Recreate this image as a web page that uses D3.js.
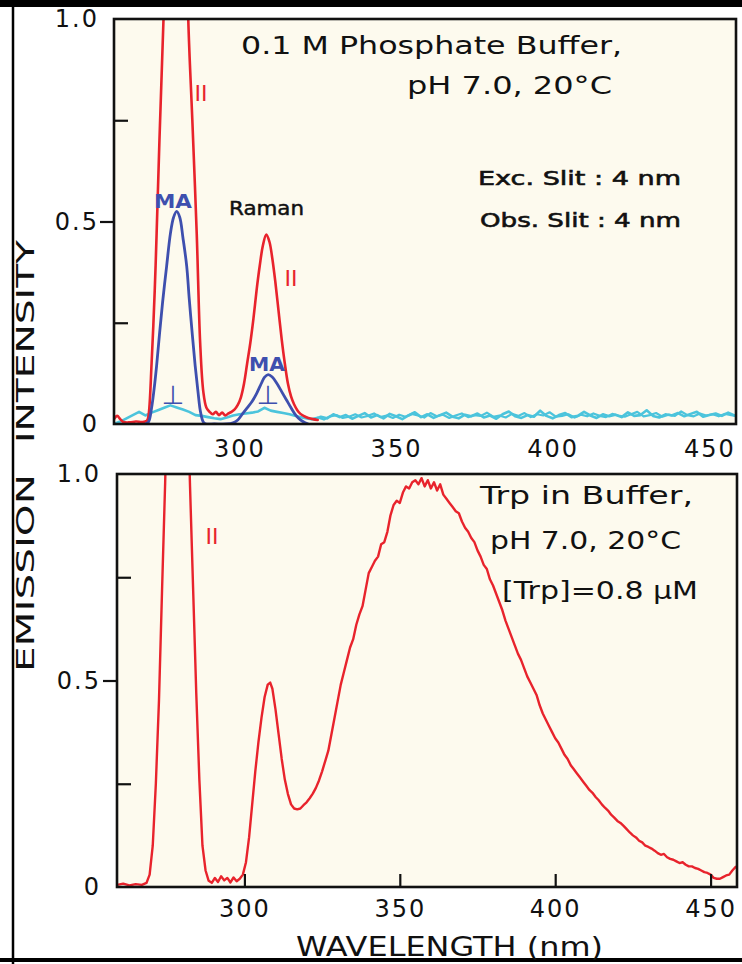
<!DOCTYPE html>
<html>
<head>
<meta charset="utf-8">
<script src="https://cdn.jsdelivr.net/npm/d3@7"></script>
<style>
  html, body { margin: 0; padding: 0; background: #ffffff; }
  svg { display: block; }
  text { font-family: "DejaVu Sans", sans-serif; }
</style>
</head>
<body>
<svg id="chart" width="742" height="964"></svg>
<script>
// ---------------- DATA ----------------
const xTickValues = [300, 350, 400, 450];
const yLabelValues = [0, 0.5, 1];
const yMinorTicks = [0.25, 0.75];

// Top panel: 0.1 M phosphate buffer, parallel (II) polarization [wavelength nm, intensity]
const bufferParallel = [
  [260,0.012],[261,0.02],[262,0.012],[263,0.005],[265,0.004],[267,0.006],[269,0.005],[270.5,0.008],
  [271,0.02],[272,0.15],[273,0.33],[273.6,0.47],[274.5,0.7],[275.8,1.0],[277,1.45],[278.5,1.9],
  [280,2.05],[281.5,1.9],[282.7,1.45],[283.7,1.0],[285,0.75],[286.4,0.47],[287.5,0.2],[288.5,0.08],
  [289.5,0.04],[290.5,0.03],[291.5,0.024],[292.5,0.03],[293.5,0.022],[294.5,0.028],[295.5,0.021],
  [296.5,0.026],[297.5,0.03],[298.5,0.036],[299.5,0.047],[300.5,0.066],[301.5,0.1],[302.5,0.15],
  [303.5,0.2],[304.5,0.26],[305.5,0.33],[306.5,0.39],[307.5,0.44],[308.6,0.468],[309.6,0.45],
  [310.5,0.41],[311.5,0.35],[312.5,0.28],[313.5,0.21],[314.5,0.15],[315.5,0.1],[316.5,0.068],
  [317.5,0.048],[318.5,0.034],[319.5,0.025],[320.5,0.02],[322,0.015],[323.5,0.012],[325,0.01]
];

// Top panel: magic-angle (MA) polarization
const bufferMagic = [
  [270,0],[271,0.005],[272,0.04],[273,0.1],[273.6,0.144],[274.5,0.22],[275.5,0.3],[276.8,0.39],
  [278,0.47],[279,0.51],[280,0.525],[281,0.51],[282,0.46],[283.2,0.39],[284,0.31],[285,0.22],
  [285.9,0.144],[286.8,0.08],[287.6,0.03],[288.5,0.005],[289.5,0],[292,0],[296,0],[298,0.003],
  [299.5,0.01],[301,0.025],[302.5,0.04],[304,0.055],[305.5,0.075],[307,0.1],[308,0.115],
  [309.2,0.122],[310.5,0.116],[312,0.1],[313.5,0.08],[315,0.06],[316.5,0.04],[318,0.022],
  [319.5,0.01],[321,0.003],[322,0]
];

// Top panel: perpendicular polarization baseline (scan 1)
const bufferPerp = [
  [260,0.000],[262,0.006],[264,0.014],[266,0.022],[268,0.030],[270,0.021],[272,0.028],[274,0.034],
  [276,0.040],[278,0.046],[280,0.041],[282,0.036],[284,0.030],[286,0.022],[288,0.020],[290,0.017],
  [292,0.014],[294,0.012],[296,0.016],[298,0.021],[300,0.024],[302,0.026],[304,0.028],[306,0.031],
  [308,0.040],[310,0.033],[312,0.030],[314,0.027],[316,0.024],[318,0.020],[320,0.016],[322,0.013],
  [324,0.011],[326,0.018],[328,0.014],[330,0.024],[332,0.017],[334,0.022],[336,0.013],[338,0.020],
  [340,0.027],[342,0.016],[344,0.022],[346,0.014],[348,0.025],[350,0.019],[352,0.012],[354,0.021],
  [356,0.029],[358,0.017],[360,0.024],[362,0.015],[364,0.022],[366,0.028],[368,0.018],[370,0.014],
  [372,0.023],[374,0.019],[376,0.026],[378,0.016],[380,0.021],[382,0.013],[384,0.024],[386,0.031],
  [388,0.019],[390,0.015],[392,0.022],[394,0.018],[396,0.033],[398,0.020],[400,0.014],[402,0.022],
  [404,0.027],[406,0.017],[408,0.020],[410,0.030],[412,0.021],[414,0.015],[416,0.024],[418,0.019],
  [420,0.023],[422,0.017],[424,0.029],[426,0.020],[428,0.022],[430,0.034],[432,0.020],[434,0.016],
  [436,0.024],[438,0.021],[440,0.027],[442,0.019],[444,0.025],[446,0.030],[448,0.018],[450,0.022],
  [452,0.026],[454,0.020],[456,0.028],[458,0.021]
];

// Top panel: perpendicular polarization baseline (scan 2, overlapping)
const bufferPerp2 = [
  [323,0.012],[325,0.016],[327,0.011],[329,0.019],[331,0.022],[333,0.015],[335,0.018],[337,0.024],
  [339,0.016],[341,0.020],[343,0.026],[345,0.017],[347,0.021],[349,0.015],[351,0.023],[353,0.018],
  [355,0.025],[357,0.021],[359,0.016],[361,0.027],[363,0.019],[365,0.023],[367,0.015],[369,0.021],
  [371,0.026],[373,0.017],[375,0.022],[377,0.020],[379,0.028],[381,0.018],[383,0.021],[385,0.016],
  [387,0.025],[389,0.020],[391,0.027],[393,0.017],[395,0.024],[397,0.021],[399,0.029],[401,0.018],
  [403,0.020],[405,0.024],[407,0.016],[409,0.023],[411,0.019],[413,0.026],[415,0.020],[417,0.017],
  [419,0.025],[421,0.021],[423,0.018],[425,0.024],[427,0.030],[429,0.019],[431,0.022],[433,0.027],
  [435,0.018],[437,0.023],[439,0.020],[441,0.031],[443,0.022],[445,0.019],[447,0.026],[449,0.021],
  [451,0.024],[453,0.019],[455,0.025],[457,0.022],[458.5,0.020]
];

// Bottom panel: Trp in buffer, parallel polarization
const trpParallel = [
  [259,0.005],[261,0.008],[263,0.004],[265,0.007],[267,0.005],[268.5,0.01],[269.5,0.03],[270.5,0.1],
  [271.5,0.25],[272.5,0.45],[273.5,0.72],[274.5,0.98],[275.5,1.3],[277,1.8],[278.5,2.0],[280,1.8],
  [281.5,1.25],[282.5,0.97],[283.5,0.72],[284.5,0.47],[285.5,0.26],[286.5,0.1],[287.5,0.04],
  [288.5,0.015],[289.5,0.01],[290.5,0.022],[291.5,0.012],[292.5,0.026],[293.5,0.016],[294.5,0.022],
  [295.5,0.011],[296.5,0.023],[297.5,0.014],[298.5,0.02],[299.5,0.03],[300.5,0.06],[301.5,0.12],
  [302.5,0.2],[303.5,0.28],[304.5,0.35],[305.5,0.41],[306.5,0.46],[307.5,0.49],[308.3,0.495],
  [309,0.48],[310,0.43],[311,0.37],[312,0.31],[313,0.26],[314,0.225],[315,0.2],[316,0.19],
  [317,0.188],[318,0.19],[319,0.198],[320,0.205],[321,0.215],[322,0.226],[323,0.24],[324,0.258],
  [325,0.28],[326,0.305],[327,0.33],[328,0.37],[329,0.41],[330,0.45],[331,0.49],[332,0.52],
  [333,0.55],[334,0.58],[335,0.6],[336,0.635],[337,0.66],[338,0.68],[339,0.72],[340,0.76],
  [341,0.775],[342,0.79],[343,0.8],[344,0.83],[345,0.835],[346,0.86],[347,0.9],[348,0.925],
  [349,0.935],[350,0.93],[351,0.955],[352,0.97],[353,0.965],[354,0.98],[355,0.985],[356,0.975],
  [357,0.99],[358,0.97],[359,0.985],[360,0.965],[361,0.98],[362,0.96],[363,0.975],[364,0.95],
  [365,0.94],[366,0.93],[367,0.92],[368,0.91],[369,0.905],[370,0.885],[371,0.87],[372,0.86],
  [373,0.845],[374,0.835],[375,0.815],[376,0.8],[377,0.78],[378,0.77],[379,0.745],[380,0.73],
  [381,0.71],[382,0.69],[383,0.67],[384,0.645],[385,0.625],[386,0.605],[387,0.585],[388,0.565],
  [389,0.55],[390,0.53],[391,0.51],[392,0.495],[393,0.48],[394,0.465],[395,0.44],[396,0.42],
  [397,0.405],[398,0.39],[399,0.375],[400,0.36],[401,0.35],[402,0.335],[403,0.32],[404,0.31],
  [405,0.295],[406,0.285],[407,0.275],[408,0.265],[409,0.255],[410,0.245],[411,0.235],[412,0.228],
  [413,0.218],[414,0.21],[415,0.2],[416,0.192],[417,0.185],[418,0.175],[419,0.168],[420,0.16],
  [421,0.155],[422,0.148],[423,0.14],[424,0.132],[425,0.125],[426,0.12],[427,0.112],[428,0.108],
  [429,0.1],[430,0.097],[431,0.093],[432,0.088],[433,0.082],[434,0.078],[435,0.08],[436,0.072],
  [437,0.068],[438,0.066],[439,0.062],[440,0.058],[441,0.06],[442,0.054],[443,0.05],[444,0.05],
  [445,0.046],[446,0.044],[447,0.04],[448,0.036],[449,0.034],[450,0.03],[451,0.022],[452,0.02],
  [453,0.02],[454,0.024],[455,0.028],[456,0.03],[457,0.04],[458,0.048],[458.5,0.05]
];

// ---------------- LAYOUT ----------------
const svg = d3.select("#chart");
const RED = "#e8232c", BLUE = "#3e4fae", CYAN = "#4cc4dc", PAPER = "#fdfaee";

const panels = [
  { id: "top", left: 114, right: 736, top: 19, bottom: 424, domain: [260, 458.5] },
  { id: "bot", left: 117, right: 737, top: 474, bottom: 887, domain: [259, 458.5] }
];
panels.forEach(p => {
  p.x = d3.scaleLinear().domain(p.domain).range([p.left, p.right]);
  p.y = d3.scaleLinear().domain([0, 1]).range([p.bottom, p.top]);
});

// outer frame
svg.append("line").attr("x1", 0).attr("x2", 742).attr("y1", 3.5).attr("y2", 3.5)
  .attr("stroke", "#000").attr("stroke-width", 7);
svg.append("line").attr("x1", 13).attr("x2", 13).attr("y1", 0).attr("y2", 964)
  .attr("stroke", "#000").attr("stroke-width", 2.5);
svg.append("line").attr("x1", 0).attr("x2", 742).attr("y1", 960).attr("y2", 960)
  .attr("stroke", "#000").attr("stroke-width", 4);

const defs = svg.append("defs");
panels.forEach(p => {
  svg.append("rect").attr("x", p.left).attr("y", p.top)
    .attr("width", p.right - p.left).attr("height", p.bottom - p.top)
    .attr("fill", PAPER);
  defs.append("clipPath").attr("id", "clip-" + p.id)
    .append("rect").attr("x", p.left).attr("y", p.top)
    .attr("width", p.right - p.left).attr("height", p.bottom - p.top);
});

function drawLine(p, data, color, width, curve) {
  const line = d3.line().x(d => p.x(d[0])).y(d => p.y(d[1])).curve(curve);
  svg.append("path").datum(data)
    .attr("clip-path", "url(#clip-" + p.id + ")")
    .attr("fill", "none").attr("stroke", color).attr("stroke-width", width)
    .attr("stroke-linejoin", "round").attr("stroke-linecap", "round")
    .attr("d", line);
}

const [P1, P2] = panels;
drawLine(P1, bufferPerp2, CYAN, 2.2, d3.curveLinear);
drawLine(P1, bufferPerp, CYAN, 2.6, d3.curveLinear);
drawLine(P1, bufferParallel, RED, 2.6, d3.curveCatmullRom.alpha(0.5));
drawLine(P1, bufferMagic, BLUE, 2.8, d3.curveCatmullRom.alpha(0.5));
drawLine(P2, trpParallel, RED, 2.4, d3.curveLinear);

// axes
const fmtY = d => d === 0 ? "0" : d3.format(".1f")(d);
function styleAxis(g) {
  g.select(".domain").remove();
  g.selectAll("line").attr("stroke", "#111").attr("stroke-width", 2.2);
  g.selectAll("text").attr("font-family", "DejaVu Sans, sans-serif")
    .attr("font-size", 24).attr("fill", "#111").attr("letter-spacing", 2);
}

panels.forEach((p, i) => {
  svg.append("g").attr("transform", `translate(${p.left},0)`)
    .call(d3.axisLeft(p.y).tickValues(yLabelValues).tickSize(0).tickPadding(i === 0 ? 15 : 16).tickFormat(fmtY))
    .call(styleAxis);
  svg.append("g").attr("transform", `translate(${p.left},0)`)
    .call(d3.axisLeft(p.y).tickValues(yMinorTicks).tickSize(-14).tickFormat(""))
    .call(styleAxis);
  svg.append("g").attr("transform", `translate(${p.left},0)`)
    .call(d3.axisLeft(p.y).tickValues([0.5]).tickSize(14).tickFormat(""))
    .call(styleAxis);
  const ax = d3.axisBottom(p.x).tickValues(xTickValues).tickSizeOuter(0)
    .tickSizeInner(i === 0 ? 0 : -13).tickPadding(i === 0 ? 16 : 13).tickFormat(d3.format("d"));
  svg.append("g").attr("transform", `translate(0,${p.bottom})`).call(ax).call(styleAxis);
  svg.append("rect").attr("x", p.left).attr("y", p.top)
    .attr("width", p.right - p.left).attr("height", p.bottom - p.top)
    .attr("fill", "none").attr("stroke", "#111").attr("stroke-width", 2.6);
});

// text annotations
function label(txt, x, y, opts = {}) {
  const t = svg.append("text").text(txt)
    .attr("x", x).attr("y", y)
    .attr("font-size", opts.size || 24)
    .attr("font-weight", opts.weight || "normal")
    .attr("fill", opts.color || "#111")
    .attr("text-anchor", opts.anchor || "start");
  if (opts.stroke) t.attr("stroke", opts.color || "#111").attr("stroke-width", opts.stroke);
  if (opts.len) t.attr("textLength", opts.len).attr("lengthAdjust", "spacingAndGlyphs");
  if (opts.rotate) t.attr("transform", `rotate(-90 ${x} ${y})`);
  return t;
}

// top panel texts
label("0.1 M  Phosphate  Buffer,", 241, 54, { size: 24, len: 381 });
label("pH 7.0, 20°C", 407, 94, { size: 24, len: 205 });
label("Exc. Slit  :  4  nm", 478, 185, { size: 20, stroke: 0.6, len: 203 });
label("Obs. Slit  :  4  nm", 480, 227, { size: 20, stroke: 0.6, len: 201 });
label("Raman", 229, 215, { size: 20, stroke: 0.5, len: 75 });
label("II", 201, 101, { size: 22, color: RED, anchor: "middle" });
label("MA", 154, 208, { size: 19, weight: "bold", color: BLUE, len: 38 });
label("⊥", 173, 404, { size: 26, color: BLUE, anchor: "middle" });
label("II", 291, 286, { size: 22, color: RED, anchor: "middle" });
label("MA", 249, 371, { size: 19, weight: "bold", color: BLUE, len: 36 });
label("⊥", 268, 404, { size: 26, color: BLUE, anchor: "middle" });

// bottom panel texts
label("Trp  in  Buffer,", 480, 504, { size: 24, len: 213 });
label("pH 7.0, 20°C", 490, 549, { size: 24, len: 191 });
label("[Trp]=0.8 μM", 502, 599, { size: 24, len: 196 });
label("II", 212, 544, { size: 22, color: RED, anchor: "middle" });

// axis titles
label("WAVELENGTH  (nm)", 296, 956, { size: 26, len: 307 });
label("INTENSITY", 34, 443, { size: 25, len: 203, rotate: true });
label("EMISSION", 34, 672, { size: 25, len: 198, rotate: true });
</script>
</body>
</html>
